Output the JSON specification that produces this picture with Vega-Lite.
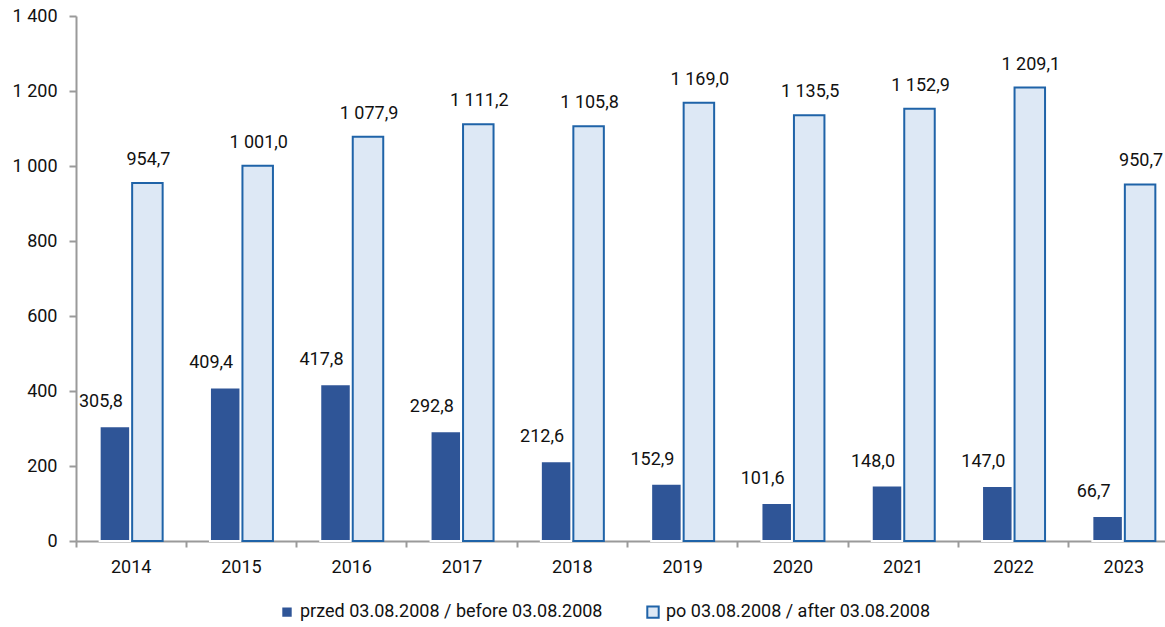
{
  "$schema": "https://vega.github.io/schema/vega-lite/v6.json",
  "autosize": {"type": "none"},
  "padding": {"left": 76, "top": 16, "right": 20, "bottom": 86},
  "width": 1103,
  "height": 525,
  "config": {
    "locale": {"number": {"decimal": ",", "thousands": " ", "grouping": [3], "currency": ["", ""]}},
    "font": "Roboto",
    "view": {"stroke": null},
    "axis": {"labelFont": "Roboto", "labelFontSize": 18, "labelColor": "#111111", "domainColor": "#9a9a9a", "tickColor": "#9a9a9a", "domainWidth": 2, "tickWidth": 2, "grid": false, "title": null}
  },
  "data": {
    "values": [
      {"year": "2014", "series": "przed 03.08.2008 / before 03.08.2008", "value": 305.8},
      {"year": "2015", "series": "przed 03.08.2008 / before 03.08.2008", "value": 409.4},
      {"year": "2016", "series": "przed 03.08.2008 / before 03.08.2008", "value": 417.8},
      {"year": "2017", "series": "przed 03.08.2008 / before 03.08.2008", "value": 292.8},
      {"year": "2018", "series": "przed 03.08.2008 / before 03.08.2008", "value": 212.6},
      {"year": "2019", "series": "przed 03.08.2008 / before 03.08.2008", "value": 152.9},
      {"year": "2020", "series": "przed 03.08.2008 / before 03.08.2008", "value": 101.6},
      {"year": "2021", "series": "przed 03.08.2008 / before 03.08.2008", "value": 148.0},
      {"year": "2022", "series": "przed 03.08.2008 / before 03.08.2008", "value": 147.0},
      {"year": "2023", "series": "przed 03.08.2008 / before 03.08.2008", "value": 66.7},
      {"year": "2014", "series": "po 03.08.2008 / after 03.08.2008", "value": 954.7},
      {"year": "2015", "series": "po 03.08.2008 / after 03.08.2008", "value": 1001.0},
      {"year": "2016", "series": "po 03.08.2008 / after 03.08.2008", "value": 1077.9},
      {"year": "2017", "series": "po 03.08.2008 / after 03.08.2008", "value": 1111.2},
      {"year": "2018", "series": "po 03.08.2008 / after 03.08.2008", "value": 1105.8},
      {"year": "2019", "series": "po 03.08.2008 / after 03.08.2008", "value": 1169.0},
      {"year": "2020", "series": "po 03.08.2008 / after 03.08.2008", "value": 1135.5},
      {"year": "2021", "series": "po 03.08.2008 / after 03.08.2008", "value": 1152.9},
      {"year": "2022", "series": "po 03.08.2008 / after 03.08.2008", "value": 1209.1},
      {"year": "2023", "series": "po 03.08.2008 / after 03.08.2008", "value": 950.7}
    ]
  },
  "encoding": {
    "x": {"field": "year", "type": "nominal", "scale": {"paddingInner": 0, "paddingOuter": 0},
      "axis": {"labelAngle": 0, "tickSize": 6, "labelPadding": 11, "bandPosition": 0, "ticks": true}},
    "xOffset": {"field": "series", "type": "nominal", "sort": ["przed 03.08.2008 / before 03.08.2008", "po 03.08.2008 / after 03.08.2008"], "scale": {"paddingInner": 0.0615, "paddingOuter": 0.728}},
    "y": {"field": "value", "type": "quantitative", "scale": {"domain": [0, 1400], "nice": false},
      "axis": {"values": [0, 200, 400, 600, 800, 1000, 1200, 1400], "format": ",d", "tickSize": 7, "labelPadding": 12}}
  },
  "layer": [
    {
      "mark": {"type": "bar", "strokeWidth": 2},
      "encoding": {
        "fill": {"field": "series", "type": "nominal",
          "scale": {"domain": ["przed 03.08.2008 / before 03.08.2008", "po 03.08.2008 / after 03.08.2008"], "range": ["#2f5597", "#dde8f5"]},
          "legend": {"title": null, "orient": "none", "legendX": 202, "legendY": 587, "direction": "horizontal", "columns": 2, "columnPadding": 40, "symbolType": "square", "symbolSize": 130, "labelFont": "Roboto", "labelFontSize": 18, "labelColor": "#111111", "labelLimit": 500, "symbolStrokeWidth": 2, "labelOffset": 4}},
        "stroke": {"field": "series", "type": "nominal",
          "scale": {"domain": ["przed 03.08.2008 / before 03.08.2008", "po 03.08.2008 / after 03.08.2008"], "range": ["#ffffff", "#1f63a8"]},
          "legend": null}
      }
    },
    {
      "transform": [{"filter": "datum.series === 'przed 03.08.2008 / before 03.08.2008'"}],
      "mark": {"type": "text", "fontSize": 18, "font": "Roboto", "color": "#111111", "baseline": "middle", "dy": -24, "dx": -14},
      "encoding": {"text": {"field": "value", "type": "quantitative", "format": ",.1f"}}
    },
    {
      "transform": [{"filter": "datum.series === 'po 03.08.2008 / after 03.08.2008'"}],
      "mark": {"type": "text", "fontSize": 18, "font": "Roboto", "color": "#111111", "baseline": "middle", "dy": -23, "dx": 1},
      "encoding": {"text": {"field": "value", "type": "quantitative", "format": ",.1f"}}
    }
  ]
}
